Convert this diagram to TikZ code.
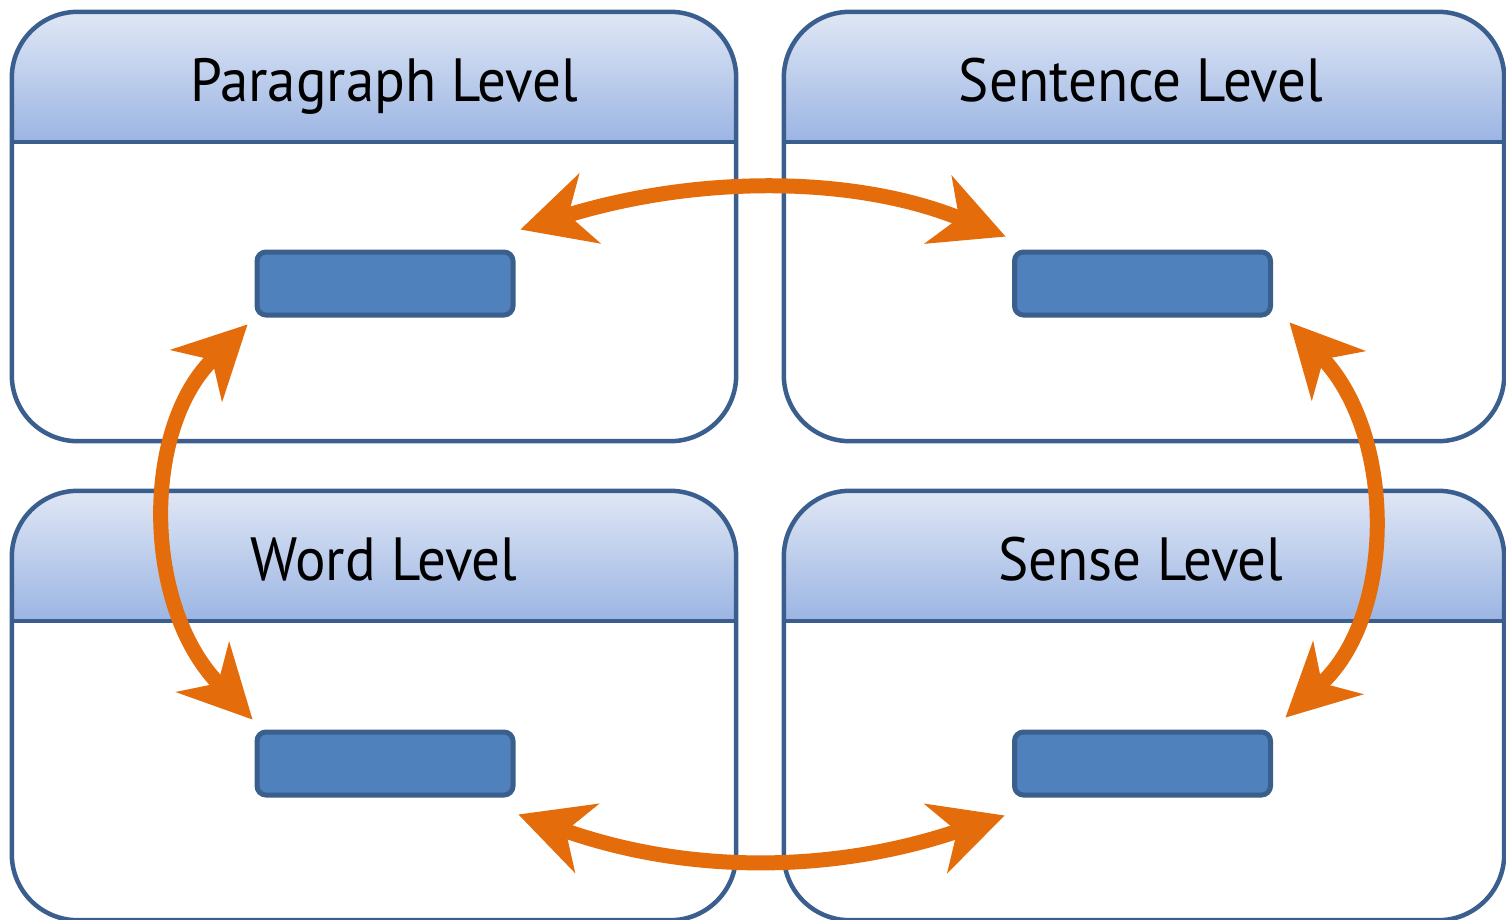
\documentclass[tikz,border=0pt]{standalone}
\usepackage{fontspec}
\setmainfont{PT Sans}[FakeStretch=0.935]
\usetikzlibrary{arrows.meta}
\definecolor{bordc}{HTML}{3A5F8E}
\definecolor{hdtop}{HTML}{E0E7F5}
\definecolor{hdbot}{HTML}{9BB5E3}
\definecolor{boxfill}{HTML}{4F81BD}
\definecolor{boxline}{HTML}{3A5F8C}
\definecolor{orng}{HTML}{E46C0A}
\tikzset{
  panelbody/.style={fill=white, minimum height=429pt, inner sep=0pt},
  panelline/.style={draw=bordc, line width=4.5pt},
  title/.style={anchor=base, inner sep=0pt, font=\fontsize{61}{70}\selectfont},
  lvbox/.style={draw=boxline, fill=boxfill, line width=5pt, rounded corners=9pt,
    minimum width=256pt, minimum height=63pt, inner sep=0pt},
  arr/.style={draw=orng, line width=15pt,
    >={Stealth[length=73pt, width=74pt, inset=23pt, line width=0pt 0 0]}, <->}
}
\newcommand\lvpanel[3]{%
  \node[panelbody, minimum width=#3] (#1) at (#2) {};
  \begin{scope}
    \clip[rounded corners=66pt] (#1.north west) rectangle (#1.south east);
    \shade[top color=hdtop, bottom color=hdbot] (#1.north west) rectangle ([yshift=-130pt]#1.north east);
    \draw[panelline] ([yshift=-130pt]#1.north west) -- ([yshift=-130pt]#1.north east);
  \end{scope}
  \draw[panelline, rounded corners=66pt] (#1.north west) rectangle (#1.south east);
}
\begin{document}
\begin{tikzpicture}[x=1pt,y=-1pt]
\useasboundingbox (0,0) rectangle (1506,919);
\lvpanel{p1}{374,226.5}{724pt}
\lvpanel{p2}{1144,226.5}{720pt}
\lvpanel{p3}{374,705.5}{724pt}
\lvpanel{p4}{1144,705.5}{720pt}
\node[title] (t1) at (384,101) {Paragraph Level};
\node[title] (t2) at (1141,101) {Sentence Level};
\node[title] (t3) at (384,580) {Word Level};
\node[title] (t4) at (1141,580) {Sense Level};
\node[lvbox] (b1) at (385,283.5) {};
\node[lvbox] (b2) at (1142.5,283.5) {};
\node[lvbox] (b3) at (385,763.5) {};
\node[lvbox] (b4) at (1142.5,763.5) {};
\draw[arr] ([shift={(5,-20)}]b1.north east) .. controls +(178,-54) and +(-153,-61) .. ([shift={(-6.5,-13)}]b2.north west);
\draw[arr] ([shift={(-7,7)}]b1.south west) .. controls +(-105,105) and +(-110,-116) .. ([shift={(-2,-10)}]b3.north west);
\draw[arr] ([shift={(16.5,5)}]b2.south east) .. controls +(106,115) and +(110,-104) .. ([shift={(12.5,-12)}]b4.north east);
\draw[arr] ([shift={(3,17)}]b3.south east) .. controls +(170,59) and +(-174,58) .. ([shift={(-7.5,18)}]b4.south west);
\end{tikzpicture}
\end{document}
